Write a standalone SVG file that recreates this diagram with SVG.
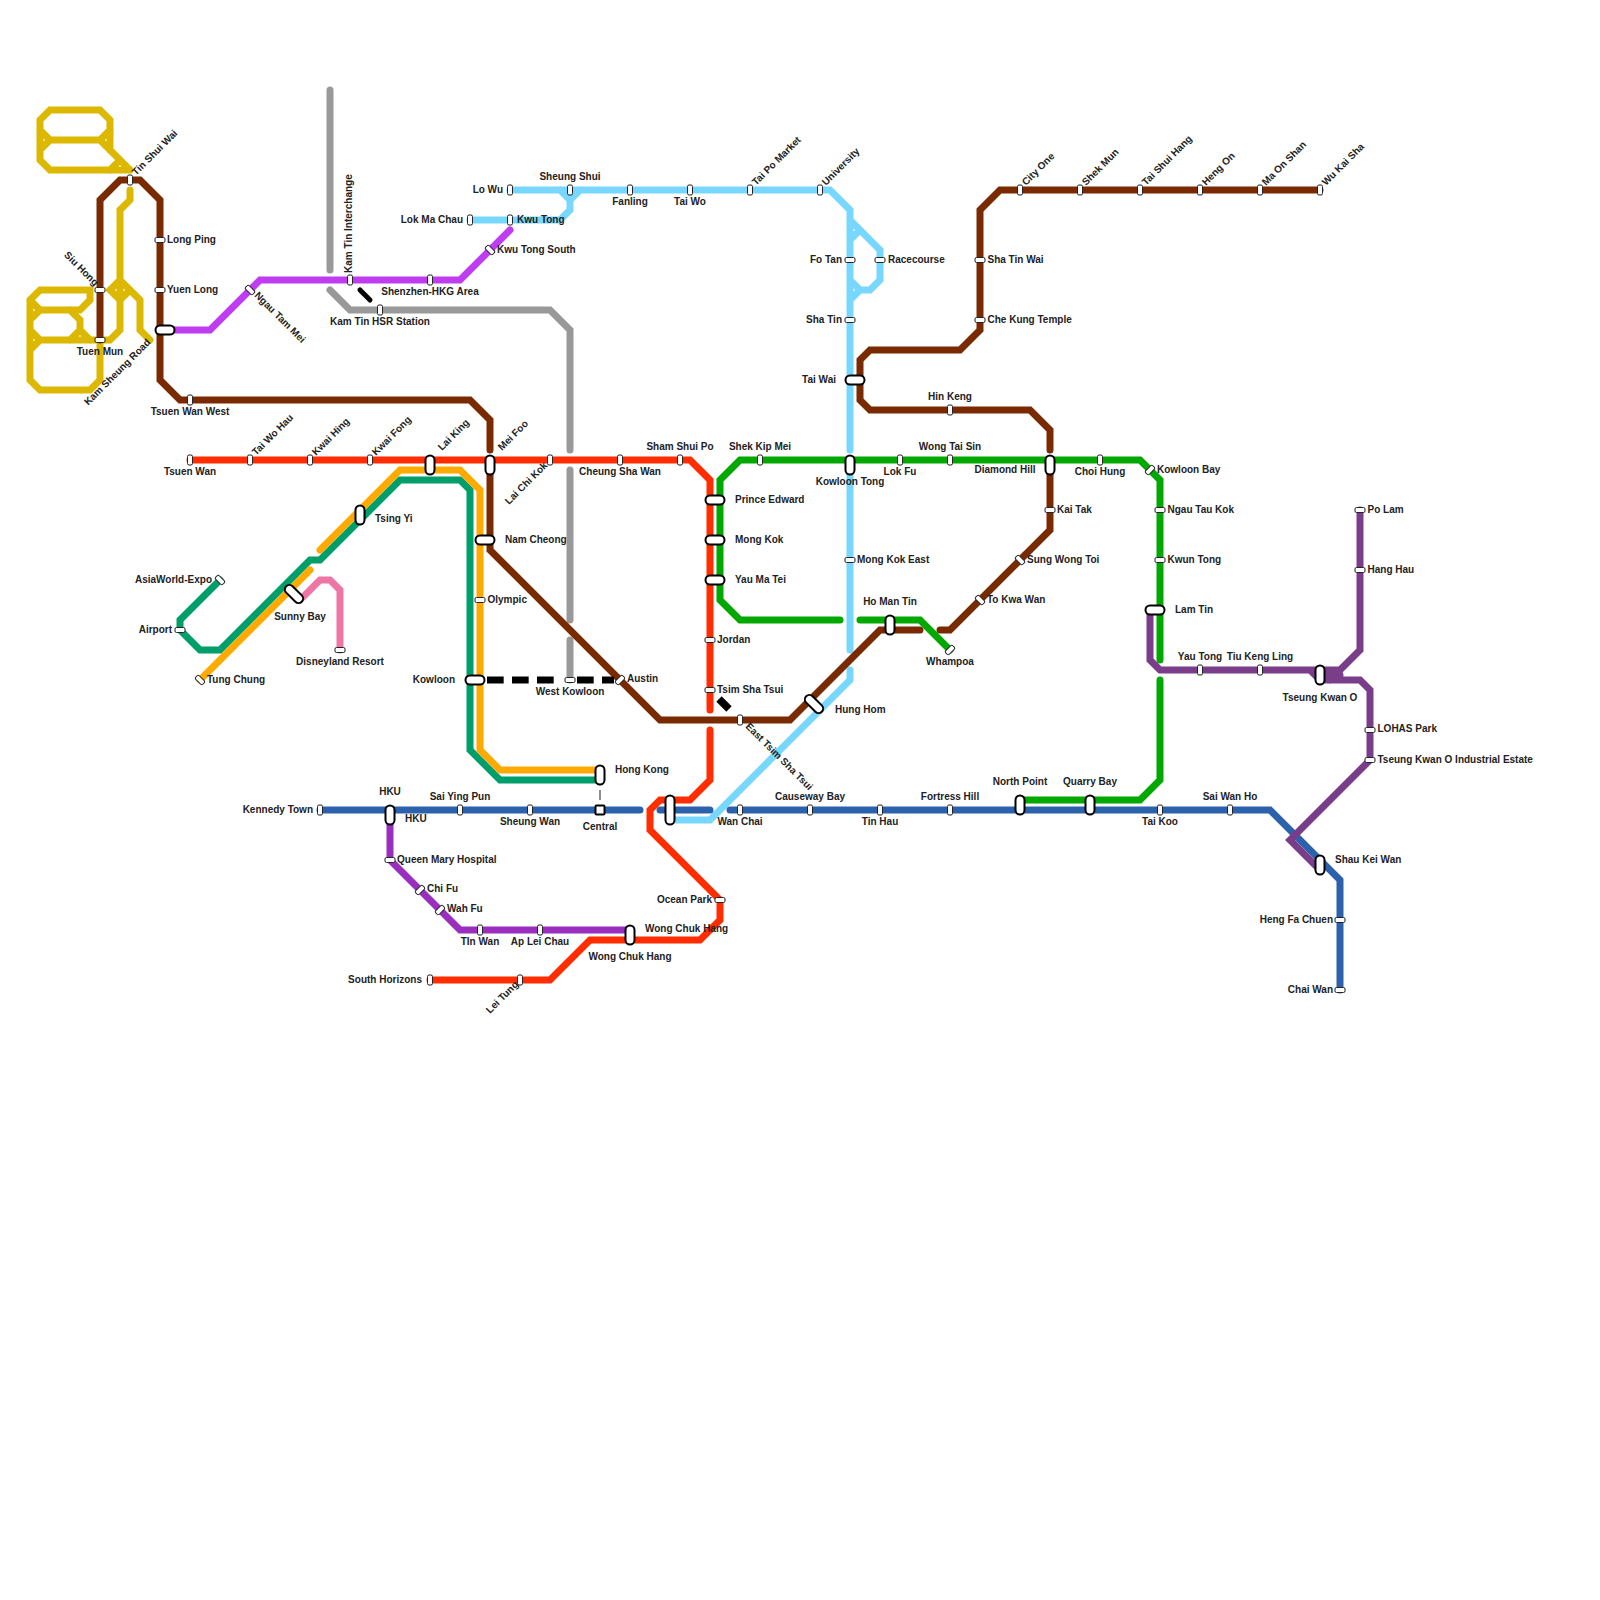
<svg xmlns="http://www.w3.org/2000/svg" width="1600" height="1600" viewBox="0 0 1600 1600">
<defs><style>
.l{fill:none;stroke-width:7;stroke-linecap:round;stroke-linejoin:miter}
.y{stroke:#dcb800}.br{stroke:#7a2a00}.re{stroke:#ff2d00}.gr{stroke:#00a800}.bl{stroke:#2b62ab}.lb{stroke:#78d7ff}.ma{stroke:#bf3cf0}.gy{stroke:#999}.te{stroke:#009e6b}.or{stroke:#ffaa00}.pk{stroke:#ee76a6}.pu{stroke:#9b2fbd}.vi{stroke:#7a3d8a}
.s{fill:#fff;stroke:#222;stroke-width:1}
.i{fill:#fff;stroke:#000;stroke-width:2}
text{font-family:"Liberation Sans",Arial,sans-serif;font-size:10px;font-weight:700;fill:#222}
.m{text-anchor:middle}.e{text-anchor:end}
</style></defs>
<rect width="1600" height="1600" fill="#fff"/>
<g id="connectors">
<path class="l y" d="M130 170H50L40 160V120L50 110H100L110 120V150M100 140L130 170M40 130L50 140L40 150M50 140H100L110 130M110 170L120 160"/>
<path class="l y" d="M30 300V380L40 390H90L100 380V340H110L120 330V210L130 200V190M30 300L40 290H90V300L80 310H40L30 320M30 300L40 310M70 310L80 320V330L70 340M30 330L40 340L30 350M40 340H100M80 330L90 340M120 280L110 290L120 300L130 290M120 280L140 300V330L150 340"/>
<path class="l gy" d="M330 90V270M330 290L350 310H550L570 330V450M570 470V620M570 640V680"/>
<path class="l lb" d="M510 190H830L850 210V450M850 470V650M850 670V680L710 820H670M470 220H560L570 210V200L560 190M570 200L580 190M850 220L880 250V280L870 290H860L850 280M850 240L860 230M850 300L860 290"/>
<path class="l ma" d="M160 330H210L260 280H460L510 230"/>
<path class="l bl" d="M320 810H640M660 810H710M730 810H1270L1340 880V990"/>
<path class="l br" d="M1320 190H1000L980 210V330L960 350H870L860 360V400L870 410H1030L1050 430V450M1050 470V530L950 630H940M920 630H880L790 720H660L490 550V470M490 450V420L470 400H180L160 380V200L140 180H120L100 200V340"/>
<path class="l re" d="M190 460H690L710 480V710M710 730V780L690 800H660L650 810V830L720 900V920L700 940H590L550 980H430"/>
<path class="l gr" d="M950 650L920 620H860M840 620H740L720 600V480L740 460H1140L1160 480V660M1160 680V780L1140 800H1020"/>
<path class="l te" d="M220 580L180 620V630L200 650H220L310 560H320L400 480H460L470 490V750L500 780H600"/>
<path class="l or" d="M600 770H500L480 750V490L460 470H400L320 550M310 570L200 680"/>
<path class="l pk" d="M303 597L320 580H330L340 590V650"/>
<path class="l pu" d="M390 810V860L460 930H630"/>
<path class="l vi" d="M1360 510V650L1330 680M1150 610V660L1160 670H1310L1320 680M1310 670H1340M1320 680H1360L1370 690V760L1290 840L1320 870M1320 675H1340"/>
<path fill="none" stroke="#000" stroke-width="5" stroke-linecap="round" d="M360 290L370 300"/>
<path fill="none" stroke="#000" stroke-width="7.500" d="M719 699L729 709"/>
<path fill="none" stroke="#000" stroke-width="7" stroke-dasharray="16.670 8.330" d="M487 680H554"/>
<path fill="none" stroke="#000" stroke-width="7" stroke-dasharray="16.670 8.330" d="M577 680H614"/>
<path fill="none" stroke="#666" stroke-width="1.500" d="M600 790V800"/>
</g>
<g id="stations">
<g id="tin-shui-wai"><rect class="s" x="127.500" y="175" width="5" height="10" rx="1.500"/><text transform="translate(136 176) rotate(-45)">Tin Shui Wai</text></g>
<g id="long-ping"><rect class="s" x="155" y="237.500" width="10" height="5" rx="1.500"/><text x="167" y="242.500">Long Ping</text></g>
<g id="yuen-long"><rect class="s" x="155" y="287.500" width="10" height="5" rx="1.500"/><text x="167" y="293">Yuen Long</text></g>
<g id="siu-hong"><rect class="s" x="95" y="287.500" width="10" height="5" rx="1.500"/><text class="e" transform="translate(94.500 286.500) rotate(45)">Siu Hong</text></g>
<g id="tuen-mun"><rect class="s" x="95" y="337.500" width="10" height="5" rx="1.500"/><text class="m" x="100" y="355">Tuen Mun</text></g>
<g id="kam-sheung-road"><rect class="i" x="155.500" y="325.500" width="19" height="9" rx="4.500"/><text class="e" transform="translate(151 343) rotate(-45)">Kam Sheung Road</text></g>
<g id="tsuen-wan-west"><rect class="s" x="187.500" y="395" width="5" height="10" rx="1.500"/><text class="m" x="190" y="414.500">Tsuen Wan West</text></g>
<g id="ngau-tam-mei"><rect class="s" transform="rotate(-45 250 290)" x="247.500" y="285" width="5" height="10" rx="1.500"/><text transform="translate(254 296) rotate(45)">Ngau Tam Mei</text></g>
<g id="kam-tin-interchange"><rect class="s" x="347.500" y="275" width="5" height="10" rx="1.500"/><text transform="translate(352 273) rotate(-90)">Kam Tin Interchange</text></g>
<g id="shenzhen"><rect class="s" x="427.500" y="275" width="5" height="10" rx="1.500"/><text class="m" x="430" y="295">Shenzhen-HKG Area</text></g>
<g id="kam-tin-hsr"><rect class="s" x="377.500" y="305" width="5" height="10" rx="1.500"/><text class="m" x="380" y="325">Kam Tin HSR Station</text></g>
<g id="kwu-tong-south"><rect class="s" transform="rotate(-45 490 250)" x="487.500" y="245" width="5" height="10" rx="1.500"/><text x="497" y="253">Kwu Tong South</text></g>
<g id="kwu-tong"><rect class="s" x="507.500" y="215" width="5" height="10" rx="1.500"/><text x="517" y="223">Kwu Tong</text></g>
<g id="lok-ma-chau"><rect class="s" x="467.500" y="215" width="5" height="10" rx="1.500"/><text class="e" x="463" y="223">Lok Ma Chau</text></g>
<g id="lo-wu"><rect class="s" x="507.500" y="185" width="5" height="10" rx="1.500"/><text class="e" x="503" y="193">Lo Wu</text></g>
<g id="sheung-shui"><rect class="s" x="567.500" y="185" width="5" height="10" rx="1.500"/><text class="m" x="570" y="180">Sheung Shui</text></g>
<g id="fanling"><rect class="s" x="627.500" y="185" width="5" height="10" rx="1.500"/><text class="m" x="630" y="205">Fanling</text></g>
<g id="tai-wo"><rect class="s" x="687.500" y="185" width="5" height="10" rx="1.500"/><text class="m" x="690" y="205">Tai Wo</text></g>
<g id="tai-po-market"><rect class="s" x="747.500" y="185" width="5" height="10" rx="1.500"/><text transform="translate(756 186) rotate(-45)">Tai Po Market</text></g>
<g id="university"><rect class="s" x="817.500" y="185" width="5" height="10" rx="1.500"/><text transform="translate(826 186) rotate(-45)">University</text></g>
<g id="fo-tan"><rect class="s" x="845" y="257.500" width="10" height="5" rx="1.500"/><text class="e" x="842" y="263">Fo Tan</text></g>
<g id="racecourse"><rect class="s" x="875" y="257.500" width="10" height="5" rx="1.500"/><text x="888" y="263">Racecourse</text></g>
<g id="sha-tin"><rect class="s" x="845" y="317.500" width="10" height="5" rx="1.500"/><text class="e" x="842" y="323">Sha Tin</text></g>
<g id="tai-wai"><rect class="i" x="845.500" y="375.500" width="19" height="9" rx="4.500"/><text class="e" x="836" y="383">Tai Wai</text></g>
<g id="kowloon-tong"><rect class="i" x="845.500" y="455.500" width="9" height="19" rx="4.500"/><text class="m" x="850" y="485">Kowloon Tong</text></g>
<g id="mong-kok-east"><rect class="s" x="845" y="557.500" width="10" height="5" rx="1.500"/><text x="857" y="562.500">Mong Kok East</text></g>
<g id="hung-hom"><rect class="i" transform="rotate(45 814 704)" x="803" y="699.500" width="22" height="9" rx="4.500"/><text x="835" y="713">Hung Hom</text></g>
<g id="ho-man-tin"><rect class="i" x="885.500" y="615.500" width="9" height="19" rx="4.500"/><text class="m" x="890" y="605">Ho Man Tin</text></g>
<g id="whampoa"><rect class="s" transform="rotate(45 950 650)" x="947.500" y="645" width="5" height="10" rx="1.500"/><text class="m" x="950" y="665">Whampoa</text></g>
<g id="to-kwa-wan"><rect class="s" transform="rotate(-45 980 600)" x="977.500" y="595" width="5" height="10" rx="1.500"/><text x="987" y="603">To Kwa Wan</text></g>
<g id="sung-wong-toi"><rect class="s" transform="rotate(-45 1020 560)" x="1017.500" y="555" width="5" height="10" rx="1.500"/><text x="1027" y="563">Sung Wong Toi</text></g>
<g id="kai-tak"><rect class="s" x="1045" y="507.500" width="10" height="5" rx="1.500"/><text x="1057" y="512.500">Kai Tak</text></g>
<g id="diamond-hill"><rect class="i" x="1045.500" y="455.500" width="9" height="19" rx="4.500"/><text class="m" x="1005" y="473">Diamond Hill</text></g>
<g id="hin-keng"><rect class="s" x="947.500" y="405" width="5" height="10" rx="1.500"/><text class="m" x="950" y="400">Hin Keng</text></g>
<g id="sha-tin-wai"><rect class="s" x="975" y="257.500" width="10" height="5" rx="1.500"/><text x="987.500" y="262.500">Sha Tin Wai</text></g>
<g id="che-kung-temple"><rect class="s" x="975" y="317.500" width="10" height="5" rx="1.500"/><text x="987.500" y="322.500">Che Kung Temple</text></g>
<g id="city-one"><rect class="s" x="1017.500" y="185" width="5" height="10" rx="1.500"/><text transform="translate(1026 186) rotate(-45)">City One</text></g>
<g id="shek-mun"><rect class="s" x="1077.500" y="185" width="5" height="10" rx="1.500"/><text transform="translate(1086 186) rotate(-45)">Shek Mun</text></g>
<g id="tai-shui-hang"><rect class="s" x="1137.500" y="185" width="5" height="10" rx="1.500"/><text transform="translate(1146 186) rotate(-45)">Tai Shui Hang</text></g>
<g id="heng-on"><rect class="s" x="1197.500" y="185" width="5" height="10" rx="1.500"/><text transform="translate(1206 186) rotate(-45)">Heng On</text></g>
<g id="ma-on-shan"><rect class="s" x="1257.500" y="185" width="5" height="10" rx="1.500"/><text transform="translate(1266 186) rotate(-45)">Ma On Shan</text></g>
<g id="wu-kai-sha"><rect class="s" x="1317.500" y="185" width="5" height="10" rx="1.500"/><text transform="translate(1326 186) rotate(-45)">Wu Kai Sha</text></g>
<g id="tsuen-wan"><rect class="s" x="187.500" y="455" width="5" height="10" rx="1.500"/><text class="m" x="190" y="475">Tsuen Wan</text></g>
<g id="tai-wo-hau"><rect class="s" x="247.500" y="455" width="5" height="10" rx="1.500"/><text transform="translate(256 456) rotate(-45)">Tai Wo Hau</text></g>
<g id="kwai-hing"><rect class="s" x="307.500" y="455" width="5" height="10" rx="1.500"/><text transform="translate(316 456) rotate(-45)">Kwai Hing</text></g>
<g id="kwai-fong"><rect class="s" x="367.500" y="455" width="5" height="10" rx="1.500"/><text transform="translate(376 456) rotate(-45)">Kwai Fong</text></g>
<g id="lai-king"><rect class="i" x="425.500" y="455.500" width="9" height="19" rx="4.500"/><text transform="translate(442 451) rotate(-45)">Lai King</text></g>
<g id="mei-foo"><rect class="i" x="485.500" y="455.500" width="9" height="19" rx="4.500"/><text transform="translate(502 451) rotate(-45)">Mei Foo</text></g>
<g id="lai-chi-kok"><rect class="s" x="547.500" y="455" width="5" height="10" rx="1.500"/><text class="e" transform="translate(548 466) rotate(-45)">Lai Chi Kok</text></g>
<g id="cheung-sha-wan"><rect class="s" x="617.500" y="455" width="5" height="10" rx="1.500"/><text class="m" x="620" y="475">Cheung Sha Wan</text></g>
<g id="sham-shui-po"><rect class="s" x="677.500" y="455" width="5" height="10" rx="1.500"/><text class="m" x="680" y="450">Sham Shui Po</text></g>
<g id="prince-edward"><rect class="i" x="705.500" y="495.500" width="19" height="9" rx="4.500"/><text x="735" y="503">Prince Edward</text></g>
<g id="mong-kok"><rect class="i" x="705.500" y="535.500" width="19" height="9" rx="4.500"/><text x="735" y="543">Mong Kok</text></g>
<g id="yau-ma-tei"><rect class="i" x="705.500" y="575.500" width="19" height="9" rx="4.500"/><text x="735" y="583">Yau Ma Tei</text></g>
<g id="jordan"><rect class="s" x="705" y="637.500" width="10" height="5" rx="1.500"/><text x="717" y="643">Jordan</text></g>
<g id="tsim-sha-tsui"><rect class="s" x="705" y="687.500" width="10" height="5" rx="1.500"/><text x="717" y="692.500">Tsim Sha Tsui</text></g>
<g id="east-tsim-sha-tsui"><rect class="s" x="737.500" y="715" width="5" height="10" rx="1.500"/><text transform="translate(745 727) rotate(45)">East Tsim Sha Tsui</text></g>
<g id="shek-kip-mei"><rect class="s" x="757.500" y="455" width="5" height="10" rx="1.500"/><text class="m" x="760" y="450">Shek Kip Mei</text></g>
<g id="lok-fu"><rect class="s" x="897.500" y="455" width="5" height="10" rx="1.500"/><text class="m" x="900" y="475">Lok Fu</text></g>
<g id="wong-tai-sin"><rect class="s" x="947.500" y="455" width="5" height="10" rx="1.500"/><text class="m" x="950" y="450">Wong Tai Sin</text></g>
<g id="choi-hung"><rect class="s" x="1097.500" y="455" width="5" height="10" rx="1.500"/><text class="m" x="1100" y="475">Choi Hung</text></g>
<g id="kowloon-bay"><rect class="s" transform="rotate(45 1150 470)" x="1147.500" y="465" width="5" height="10" rx="1.500"/><text x="1157" y="472.500">Kowloon Bay</text></g>
<g id="ngau-tau-kok"><rect class="s" x="1155" y="507.500" width="10" height="5" rx="1.500"/><text x="1167.500" y="512.500">Ngau Tau Kok</text></g>
<g id="kwun-tong"><rect class="s" x="1155" y="557.500" width="10" height="5" rx="1.500"/><text x="1167.500" y="562.500">Kwun Tong</text></g>
<g id="lam-tin"><rect class="i" x="1145.500" y="605.500" width="19" height="9" rx="4.500"/><text x="1175" y="613">Lam Tin</text></g>
<g id="yau-tong"><rect class="s" x="1197.500" y="665" width="5" height="10" rx="1.500"/><text class="m" x="1200" y="660">Yau Tong</text></g>
<g id="tiu-keng-ling"><rect class="s" x="1257.500" y="665" width="5" height="10" rx="1.500"/><text class="m" x="1260" y="660">Tiu Keng Ling</text></g>
<g id="tseung-kwan-o"><rect class="i" x="1315.500" y="665.500" width="9" height="19" rx="4.500"/><text class="m" x="1320" y="700.500">Tseung Kwan O</text></g>
<g id="po-lam"><rect class="s" x="1355" y="507.500" width="10" height="5" rx="1.500"/><text x="1367.500" y="512.500">Po Lam</text></g>
<g id="hang-hau"><rect class="s" x="1355" y="567.500" width="10" height="5" rx="1.500"/><text x="1367.500" y="572.500">Hang Hau</text></g>
<g id="lohas-park"><rect class="s" x="1365" y="727.500" width="10" height="5" rx="1.500"/><text x="1377.500" y="732">LOHAS Park</text></g>
<g id="tko-industrial"><rect class="s" x="1365" y="757.500" width="10" height="5" rx="1.500"/><text x="1377.500" y="762.500">Tseung Kwan O Industrial Estate</text></g>
<g id="shau-kei-wan"><rect class="i" x="1315.500" y="855.500" width="9" height="19" rx="4.500"/><text x="1335" y="863">Shau Kei Wan</text></g>
<g id="heng-fa-chuen"><rect class="s" x="1335" y="917.500" width="10" height="5" rx="1.500"/><text class="e" x="1333" y="922.500">Heng Fa Chuen</text></g>
<g id="chai-wan"><rect class="s" x="1335" y="987.500" width="10" height="5" rx="1.500"/><text class="e" x="1333" y="992.500">Chai Wan</text></g>
<g id="sai-wan-ho"><rect class="s" x="1227.500" y="805" width="5" height="10" rx="1.500"/><text class="m" x="1230" y="800">Sai Wan Ho</text></g>
<g id="tai-koo"><rect class="s" x="1157.500" y="805" width="5" height="10" rx="1.500"/><text class="m" x="1160" y="825">Tai Koo</text></g>
<g id="quarry-bay"><rect class="i" x="1085.500" y="795.500" width="9" height="19" rx="4.500"/><text class="m" x="1090" y="785">Quarry Bay</text></g>
<g id="north-point"><rect class="i" x="1015.500" y="795.500" width="9" height="19" rx="4.500"/><text class="m" x="1020" y="785">North Point</text></g>
<g id="fortress-hill"><rect class="s" x="947.500" y="805" width="5" height="10" rx="1.500"/><text class="m" x="950" y="800">Fortress Hill</text></g>
<g id="tin-hau"><rect class="s" x="877.500" y="805" width="5" height="10" rx="1.500"/><text class="m" x="880" y="825">Tin Hau</text></g>
<g id="causeway-bay"><rect class="s" x="807.500" y="805" width="5" height="10" rx="1.500"/><text class="m" x="810" y="800">Causeway Bay</text></g>
<g id="wan-chai"><rect class="s" x="737.500" y="805" width="5" height="10" rx="1.500"/><text class="m" x="740" y="825">Wan Chai</text></g>
<g id="admiralty"><rect class="i" x="665.500" y="795.500" width="9" height="29" rx="4.500"/></g>
<g id="central"><rect class="i" x="595.500" y="805.500" width="9" height="9" rx="1"/><text class="m" x="600" y="830">Central</text></g>
<g id="hong-kong"><rect class="i" x="595.500" y="765.500" width="9" height="19" rx="4.500"/><text x="615" y="773">Hong Kong</text></g>
<g id="sheung-wan"><rect class="s" x="527.500" y="805" width="5" height="10" rx="1.500"/><text class="m" x="530" y="825">Sheung Wan</text></g>
<g id="sai-ying-pun"><rect class="s" x="457.500" y="805" width="5" height="10" rx="1.500"/><text class="m" x="460" y="800">Sai Ying Pun</text></g>
<g id="hku"><rect class="i" x="385.500" y="805.500" width="9" height="19" rx="4.500"/><text class="m" x="390" y="795">HKU</text><text x="405" y="822">HKU</text></g>
<g id="kennedy-town"><rect class="s" x="317.500" y="805" width="5" height="10" rx="1.500"/><text class="e" x="313" y="812.500">Kennedy Town</text></g>
<g id="queen-mary"><rect class="s" x="385" y="857.500" width="10" height="5" rx="1.500"/><text x="397" y="863">Queen Mary Hospital</text></g>
<g id="chi-fu"><rect class="s" transform="rotate(45 420 890)" x="417.500" y="885" width="5" height="10" rx="1.500"/><text x="427" y="892">Chi Fu</text></g>
<g id="wah-fu"><rect class="s" transform="rotate(45 440 910)" x="437.500" y="905" width="5" height="10" rx="1.500"/><text x="447" y="912">Wah Fu</text></g>
<g id="tin-wan"><rect class="s" x="477.500" y="925" width="5" height="10" rx="1.500"/><text class="m" x="480" y="945">TIn Wan</text></g>
<g id="ap-lei-chau"><rect class="s" x="537.500" y="925" width="5" height="10" rx="1.500"/><text class="m" x="540" y="945">Ap Lei Chau</text></g>
<g id="wong-chuk-hang"><rect class="i" x="625.500" y="925.500" width="9" height="19" rx="4.500"/><text x="645" y="932">Wong Chuk Hang</text><text class="m" x="630" y="960">Wong Chuk Hang</text></g>
<g id="ocean-park"><rect class="s" x="715" y="897.500" width="10" height="5" rx="1.500"/><text class="e" x="712" y="903">Ocean Park</text></g>
<g id="south-horizons"><rect class="s" x="427.500" y="975" width="5" height="10" rx="1.500"/><text class="e" x="422" y="983">South Horizons</text></g>
<g id="lei-tung"><rect class="s" x="517.500" y="975" width="5" height="10" rx="1.500"/><text class="e" transform="translate(519 985) rotate(-45)">Lei Tung</text></g>
<g id="austin"><rect class="s" transform="rotate(45 620 680)" x="617.500" y="675" width="5" height="10" rx="1.500"/><text x="627" y="682">Austin</text></g>
<g id="west-kowloon"><rect class="s" x="565" y="677.500" width="10" height="5" rx="1.500"/><text class="m" x="570" y="695">West Kowloon</text></g>
<g id="kowloon"><rect class="i" x="465.500" y="675.500" width="19" height="9" rx="4.500"/><text class="e" x="455" y="683">Kowloon</text></g>
<g id="olympic"><rect class="s" x="475" y="597.500" width="10" height="5" rx="1.500"/><text x="487.500" y="603">Olympic</text></g>
<g id="nam-cheong"><rect class="i" x="475.500" y="535.500" width="19" height="9" rx="4.500"/><text x="505" y="543">Nam Cheong</text></g>
<g id="tsing-yi"><rect class="i" x="355.500" y="505.500" width="9" height="19" rx="4.500"/><text x="375" y="522">Tsing Yi</text></g>
<g id="sunny-bay"><rect class="i" transform="rotate(45 294 594)" x="283" y="589.500" width="22" height="9" rx="4.500"/><text class="m" x="300" y="620">Sunny Bay</text></g>
<g id="disneyland"><rect class="s" x="335" y="647.500" width="10" height="5" rx="1.500"/><text class="m" x="340" y="665">Disneyland Resort</text></g>
<g id="tung-chung"><rect class="s" transform="rotate(-45 200 680)" x="197.500" y="675" width="5" height="10" rx="1.500"/><text x="207" y="683">Tung Chung</text></g>
<g id="asiaworld"><rect class="s" transform="rotate(-45 220 580)" x="217.500" y="575" width="5" height="10" rx="1.500"/><text class="e" x="212" y="583">AsiaWorld-Expo</text></g>
<g id="airport"><rect class="s" x="175" y="627.500" width="10" height="5" rx="1.500"/><text class="e" x="172" y="633">Airport</text></g>
</g>
</svg>
